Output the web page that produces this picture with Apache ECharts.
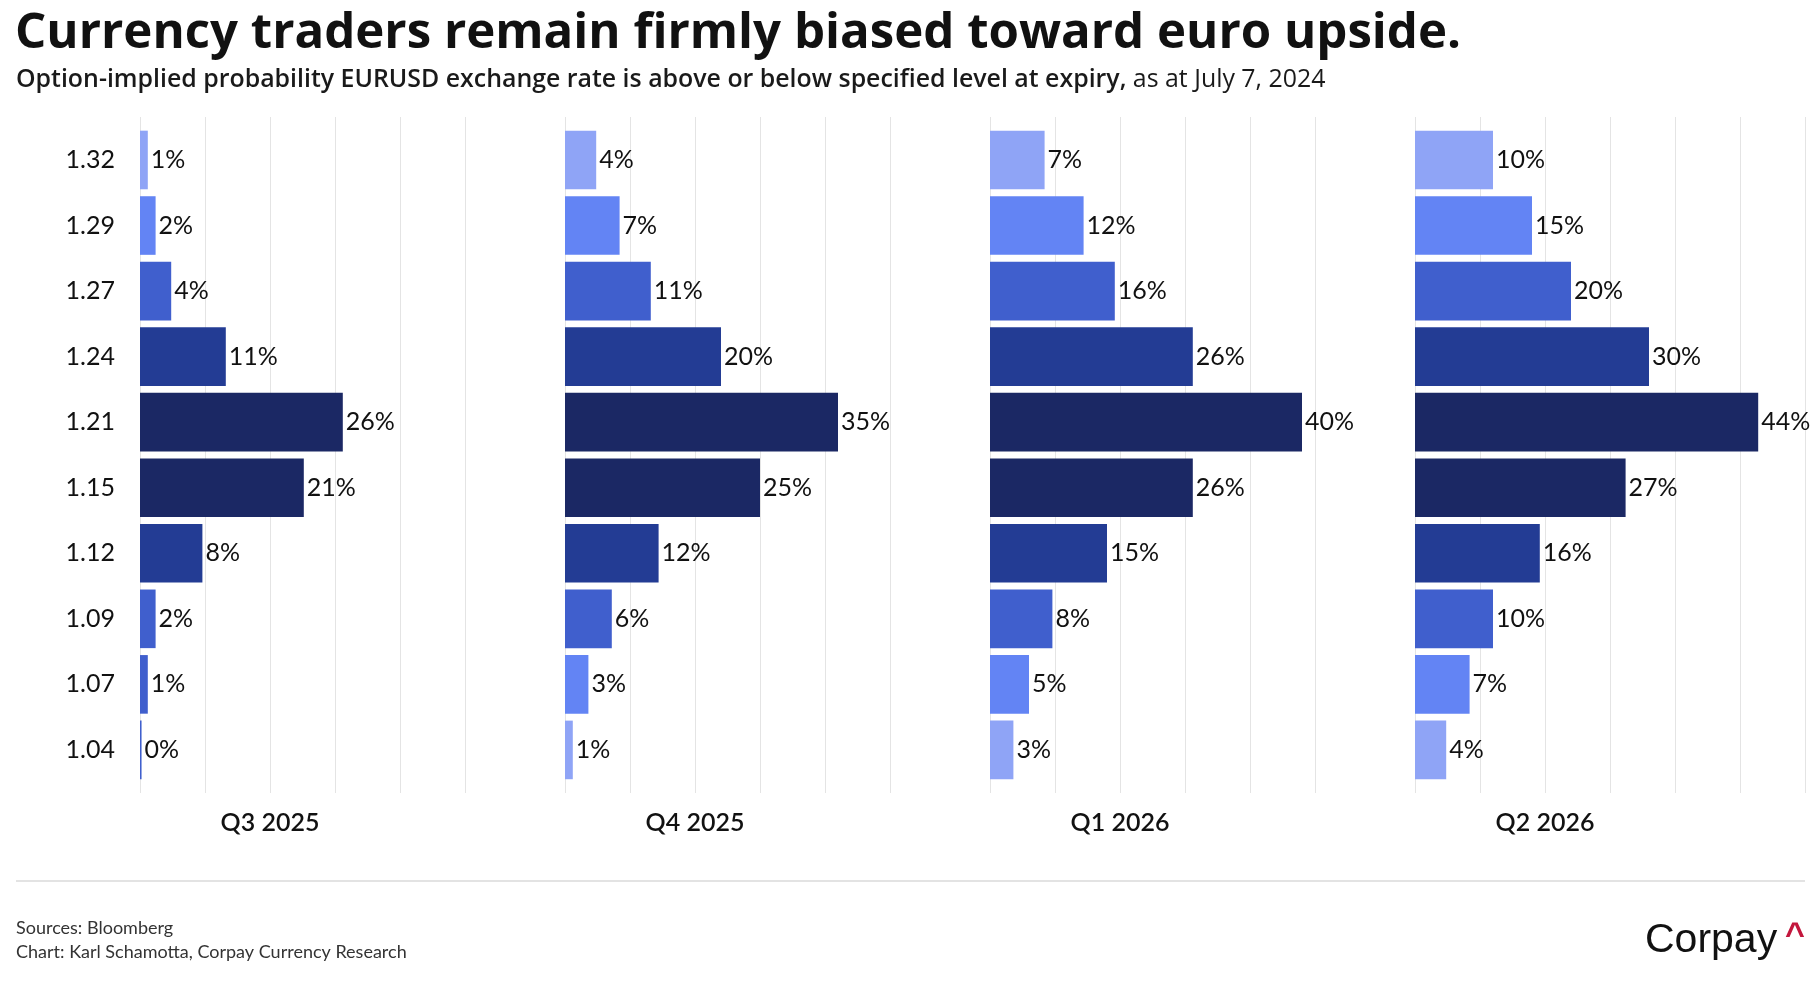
<!DOCTYPE html>
<html><head><meta charset="utf-8">
<script src="https://cdn.jsdelivr.net/npm/echarts@6/dist/echarts.min.js"></script>
<style>html,body{margin:0;padding:0;background:#fff}#c{width:1813px;height:1000px}</style>
</head><body><div id="c"></div>
<script>
// ---- data ----
const levels = ['1.32','1.29','1.27','1.24','1.21','1.15','1.12','1.09','1.07','1.04'];
const panelNames = ['Q3 2025','Q4 2025','Q1 2026','Q2 2026'];
const q3_2025 = [1, 2, 4, 11, 26, 21, 8, 2, 1, 0.2];
const q4_2025 = [4, 7, 11, 20, 35, 25, 12, 6, 3, 1];
const q1_2026 = [7, 12, 16, 26, 40, 26, 15, 8, 5, 3];
const q2_2026 = [10, 15, 20, 30, 44, 27, 16, 10, 7, 4];
const panelValues = [q3_2025, q4_2025, q1_2026, q2_2026];
const tickStep = 100 / 12;           // gridline spacing in %
const gridLineCounts = [5, 5, 5, 6]; // gridlines after zero per panel

// ---- styles ----
const C = { L: '#8fa4f6', B: '#6384f4', M: '#405fcd', D: '#233c94', X: '#1b2864' };
const colorsQ3 = ['L','B','M','D','X','X','D','M','M','M'];
const colorsRest = ['L','B','M','D','X','X','D','M','B','L'];
const panelColors = [colorsQ3, colorsRest, colorsRest, colorsRest];
const FONT = 'Lato, "Noto Sans", sans-serif';
const HFONT = '"Open Sans", Lato, sans-serif';
const panelLeft = [140, 565, 990, 1415];
const pxPerPct = 7.8;

const grids = [], xAxes = [], yAxes = [], series = [];
panelValues.forEach((vals, i) => {
  const maxV = tickStep * gridLineCounts[i];
  const w = maxV * pxPerPct;
  grids.push({ left: panelLeft[i], top: 117, width: w, height: 676, containLabel: false });
  xAxes.push({
    gridIndex: i, type: 'value', min: 0, max: maxV, interval: tickStep,
    axisLine: { show: false }, axisTick: { show: false },
    splitLine: { show: true, lineStyle: { color: '#e4e4e4', width: 1 } },
    axisLabel: {
      show: true, margin: 17, fontSize: 25, fontWeight: 600, color: '#111', fontFamily: FONT,
      formatter: (v, idx) => idx === 2 ? panelNames[i] : ''
    }
  });
  yAxes.push({ gridIndex: i, type: 'value', show: false });
});
panelValues.forEach((vals, i) => {
  const maxV = tickStep * gridLineCounts[i];
  const w = maxV * pxPerPct;
  grids.push({ left: panelLeft[i], top: 127.2, width: w, height: 655.5, containLabel: false });
  xAxes.push({ gridIndex: 4 + i, type: 'value', min: 0, max: maxV, show: false,
    splitLine: { show: false } });
  yAxes.push({
    gridIndex: 4 + i, type: 'category', data: levels, inverse: true,
    axisLine: { show: false }, axisTick: { show: false }, splitLine: { show: false },
    axisLabel: { show: i === 0, margin: 25, fontSize: 25, color: '#111', fontFamily: FONT }
  });
  series.push({
    type: 'bar', xAxisIndex: 4 + i, yAxisIndex: 4 + i,
    barCategoryGap: '10.6%',
    data: vals.map((v, k) => ({ value: v, itemStyle: { color: C[panelColors[i][k]] } })),
    label: {
      show: true, position: 'right', distance: 3, fontSize: 25, color: '#111', fontFamily: FONT,
      formatter: p => Math.round(p.value) + '%'
    },
    silent: true, animation: false
  });
});

const chart = echarts.init(document.getElementById('c'), null, { renderer: 'canvas' });
chart.setOption({
  backgroundColor: '#fff',
  animation: false,
  grid: grids, xAxis: xAxes, yAxis: yAxes, series: series,
  graphic: [
    { type: 'text', left: 15, top: 9, style: {
        text: 'Currency traders remain firmly biased toward euro upside.',
        font: '700 49.2px ' + HFONT, fill: '#111' } },
    { type: 'text', left: 16, top: 67, style: {
        text: '{b|Option-implied probability EURUSD exchange rate is above or below specified level at expiry,}{r| as at July 7, 2024}',
        rich: {
          b: { fontFamily: HFONT, fontSize: 24.9, fontWeight: 600, fill: '#1a1a1a' },
          r: { fontFamily: HFONT, fontSize: 24.9, fontWeight: 400, fill: '#1a1a1a' }
        } } },
    { type: 'line', shape: { x1: 16, y1: 881, x2: 1805, y2: 881 },
      style: { stroke: '#e3e3e3', lineWidth: 2 } },
    { type: 'text', left: 16, top: 919, style: {
        text: 'Sources: Bloomberg', font: '400 18px ' + FONT, fill: '#333' } },
    { type: 'text', left: 16, top: 943, style: {
        text: 'Chart: Karl Schamotta, Corpay Currency Research', font: '400 18px ' + FONT, fill: '#333' } },
    { type: 'text', left: 1645, top: 920, style: {
        text: 'Corpay', font: '400 41px "Liberation Sans", Arial, sans-serif', fill: '#111' } },
    { type: 'text', left: 1785, top: 919, style: {
        text: '^', font: '700 34px "Liberation Sans", Arial, sans-serif', fill: '#c3173d' } }
  ]
});
</script></body></html>
